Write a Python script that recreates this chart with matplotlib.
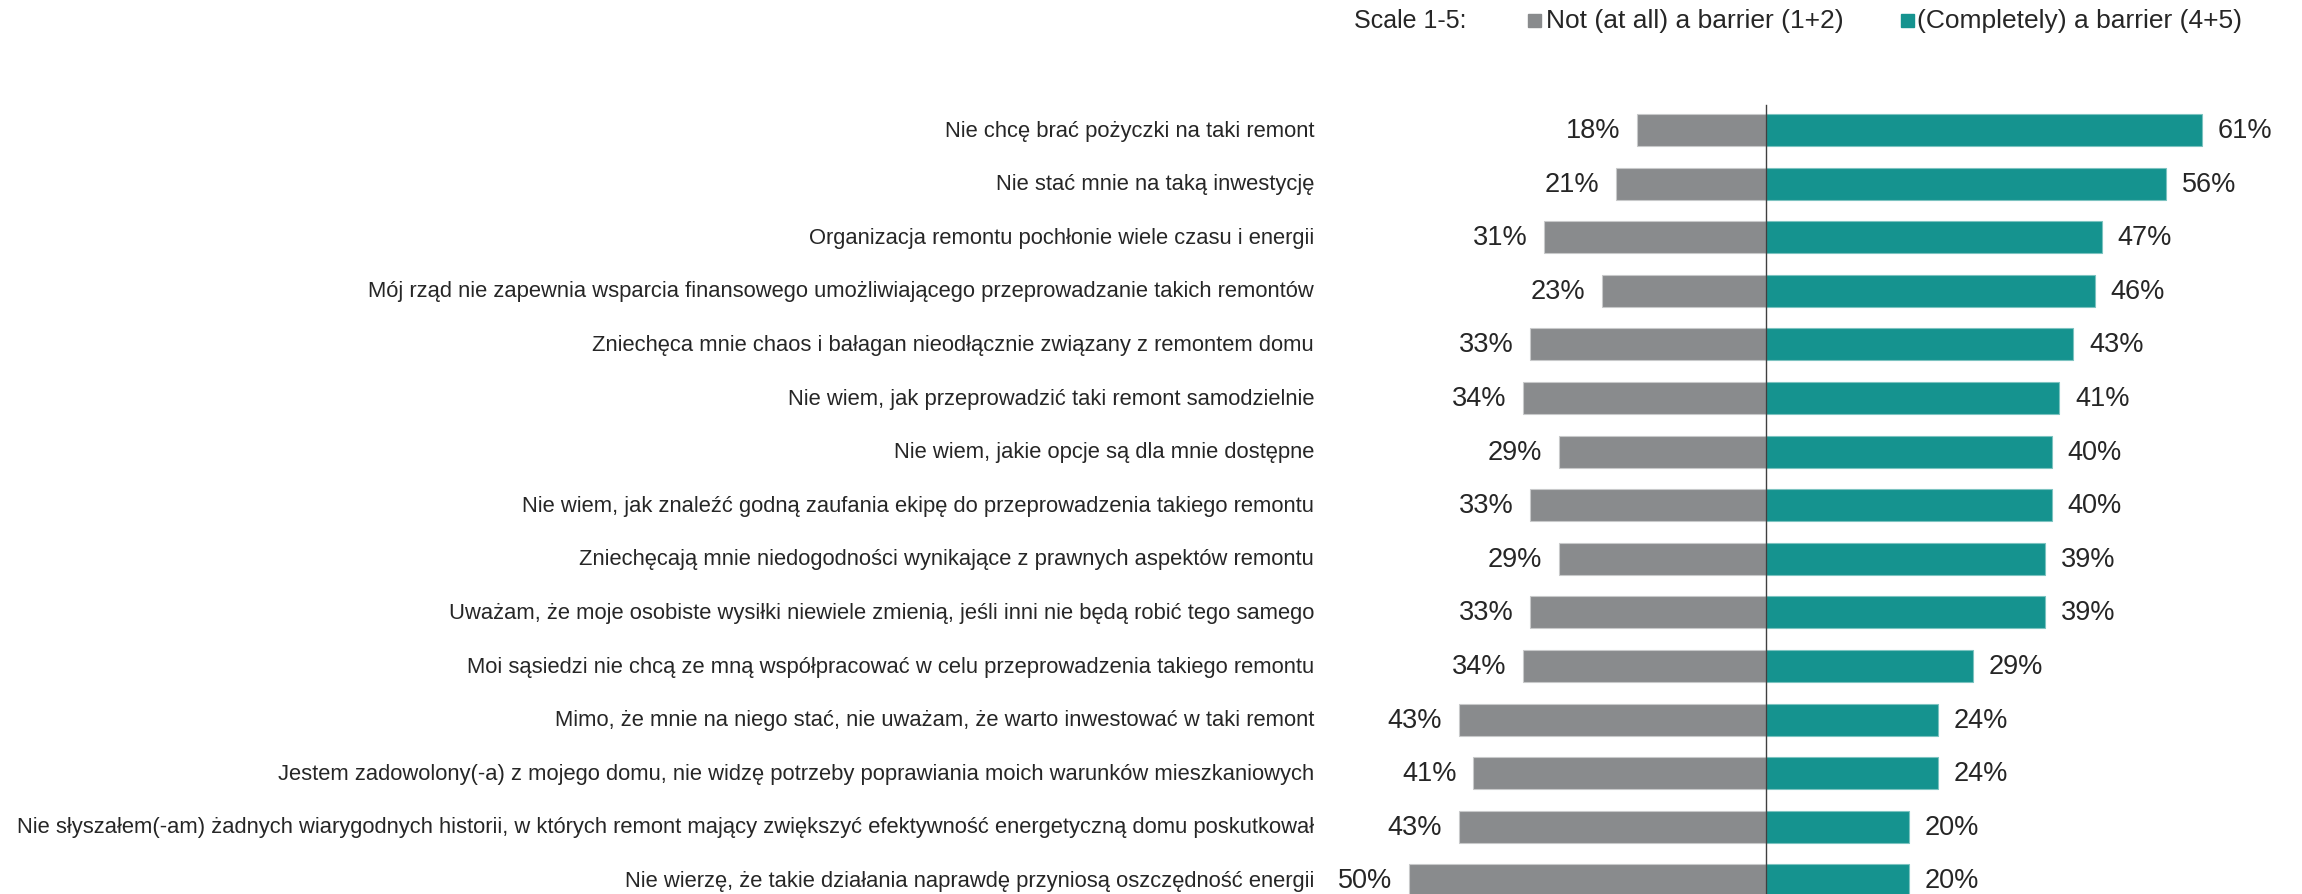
import matplotlib
matplotlib.use("Agg")
import matplotlib.pyplot as plt
from matplotlib.patches import Rectangle

plt.rcParams['font.family'] = ['Liberation Sans', 'DejaVu Sans']

categories = [
    "Nie chcę brać pożyczki na taki remont",
    "Nie stać mnie na taką inwestycję",
    "Organizacja remontu pochłonie wiele czasu i energii",
    "Mój rząd nie zapewnia wsparcia finansowego umożliwiającego przeprowadzanie takich remontów",
    "Zniechęca mnie chaos i bałagan nieodłącznie związany z remontem domu",
    "Nie wiem, jak przeprowadzić taki remont samodzielnie",
    "Nie wiem, jakie opcje są dla mnie dostępne",
    "Nie wiem, jak znaleźć godną zaufania ekipę do przeprowadzenia takiego remontu",
    "Zniechęcają mnie niedogodności wynikające z prawnych aspektów remontu",
    "Uważam, że moje osobiste wysiłki niewiele zmienią, jeśli inni nie będą robić tego samego",
    "Moi sąsiedzi nie chcą ze mną współpracować w celu przeprowadzenia takiego remontu",
    "Mimo, że mnie na niego stać, nie uważam, że warto inwestować w taki remont",
    "Jestem zadowolony(-a) z mojego domu, nie widzę potrzeby poprawiania moich warunków mieszkaniowych",
    "Nie słyszałem(-am) żadnych wiarygodnych historii, w których remont mający zwiększyć efektywność energetyczną domu poskutkował",
    "Nie wierzę, że takie działania naprawdę przyniosą oszczędność energii",
]
not_barrier = [18, 21, 31, 23, 33, 34, 29, 33, 29, 33, 34, 43, 41, 43, 50]
barrier = [61, 56, 47, 46, 43, 41, 40, 40, 39, 39, 29, 24, 24, 20, 20]
legend_labels = ["Not (at all) a barrier (1+2)", "(Completely) a barrier (4+5)"]
scale_label = "Scale 1-5:"

GRAY = "#898B8D"
TEAL = "#15938F"
TXT = "#262626"

W, H = 2302, 895
fig = plt.figure(figsize=(W / 100, H / 100), dpi=100)
ax = fig.add_axes([0, 0, 1, 1])
ax.axis("off")

cx = 1766.0
ppu = 7.15
ax.set_xlim(-cx / ppu, (W - cx) / ppu)
y0, dy = 131.0, 53.6
ax.set_ylim((H - y0) / dy, -y0 / dy)

ys = list(range(len(categories)))
ax.barh(ys, [-v for v in not_barrier], height=0.6, color=GRAY, edgecolor="#C8C9CA", linewidth=0.8)
ax.barh(ys, barrier, height=0.6, color=TEAL, edgecolor="#7CC3C0", linewidth=0.8)
ax.plot([0, 0], [-0.47, 20], color="#404040", lw=1.0, zorder=5)

label_x = (1314 - cx) / ppu
for y, c, a, b in zip(ys, categories, not_barrier, barrier):
    ax.text(label_x, y, c, ha="right", va="center", fontsize=15.8, color=TXT)
    ax.text(-a - 2.3, y, f"{a}%", ha="right", va="center", fontsize=19.5, color=TXT)
    ax.text(b + 2.2, y, f"{b}%", ha="left", va="center", fontsize=19.5, color=TXT)

# legend
ly = 1 - 21 / H
fig.text(1466 / W, ly, scale_label, ha="right", va="center", fontsize=18, color=TXT)
sq = 13
fig.patches.append(Rectangle((1528 / W, ly - sq / 2 / H), sq / W, sq / H, transform=fig.transFigure, color=GRAY))
fig.text(1546 / W, ly, legend_labels[0], ha="left", va="center", fontsize=19, color=TXT)
fig.patches.append(Rectangle((1901 / W, ly - sq / 2 / H), sq / W, sq / H, transform=fig.transFigure, color=TEAL))
fig.text(1917 / W, ly, legend_labels[1], ha="left", va="center", fontsize=19, color=TXT)

fig.savefig("out.png", dpi=100)
